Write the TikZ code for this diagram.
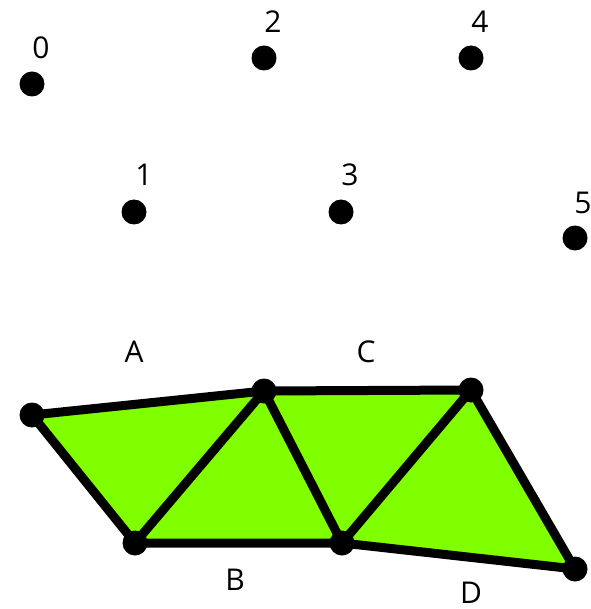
\documentclass[tikz,border=0pt]{standalone}
\usepackage{fontspec}
\setmainfont{Open Sans}
\definecolor{meshgreen}{RGB}{128,255,0}
\tikzset{
  dot/.style={circle,fill=black,inner sep=0pt,minimum size=25pt},
  lbl/.style={font=\fontsize{30}{30}\selectfont,inner sep=0pt,anchor=center},
  edge/.style={line width=9pt,line join=round,line cap=round}
}
\begin{document}
\begin{tikzpicture}[x=1pt,y=-1pt]
\useasboundingbox (0,0) rectangle (590,609);
% top points
\node[dot] (p0) at (32,84) {};
\node[dot] (p2) at (264,58) {};
\node[dot] (p4) at (471,58) {};
\node[dot] (p1) at (134,212) {};
\node[dot] (p3) at (341,212) {};
\node[dot] (p5) at (575,238) {};
\node[lbl] (l0) at (41,48) {0};
\node[lbl] (l2) at (273,22) {2};
\node[lbl] (l4) at (480,22) {4};
\node[lbl] (l1) at (144,175) {1};
\node[lbl] (l3) at (350,175) {3};
\node[lbl] (l5) at (583,203) {5};
% mesh
\coordinate (v0) at (32,415);
\coordinate (v1) at (135,543);
\coordinate (v2) at (264,391);
\coordinate (v3) at (342,543);
\coordinate (v4) at (471,390);
\coordinate (v5) at (575,569);
\fill[meshgreen] (v0) -- (v2) -- (v4) -- (v5) -- (v3) -- (v1) -- cycle;
\draw[edge] (v0) -- (v2) -- (v4) -- (v5) -- (v3) -- (v1) -- cycle;
\draw[edge] (v1) -- (v2) -- (v3) -- (v4);
\foreach \v in {v0,v1,v2,v3,v4,v5} \node[dot] at (\v) {};
\node[lbl] (lA) at (134,352) {A};
\node[lbl] (lC) at (366,352) {C};
\node[lbl] (lB) at (235,580) {B};
\node[lbl] (lD) at (471,593) {D};
\end{tikzpicture}
\end{document}
